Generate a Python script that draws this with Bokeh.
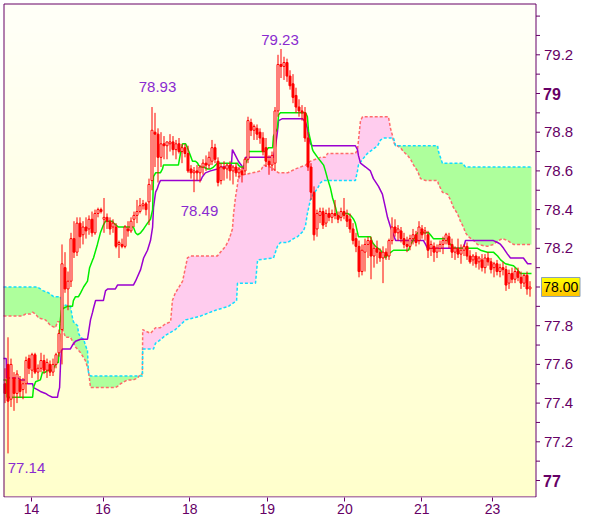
import numpy as np
from bokeh.plotting import figure
from bokeh.models import Range1d, FixedTicker, ColumnDataSource
from bokeh.embed import file_html
from bokeh.resources import INLINE
from bokeh.core.properties import value

# ---------------- data (hourly candles, bar index 0..175) ----------------
opens = [
    77.50, 77.60, 77.42, 77.53, 77.45, 77.52, 77.47, 77.50, 77.63, 77.57,
    77.65, 77.56, 77.58, 77.62, 77.57, 77.60, 77.56, 77.60, 77.66, 77.78,
    78.10, 77.99, 78.03, 78.25, 78.18, 78.33, 78.27, 78.31, 78.30, 78.35,
    78.28, 78.38, 78.40, 78.35, 78.36, 78.34, 78.31, 78.31, 78.22, 78.22,
    78.21, 78.30, 78.29, 78.35, 78.37, 78.39, 78.42, 78.43, 78.44, 78.55,
    78.80, 78.79, 78.67, 78.74, 78.73, 78.74, 78.75, 78.71, 78.74, 78.70,
    78.72, 78.69, 78.61, 78.59, 78.60, 78.59, 78.62, 78.64, 78.63, 78.65,
    78.72, 78.65, 78.55, 78.62, 78.61, 78.63, 78.60, 78.62, 78.59, 78.60,
    78.60, 78.66, 78.85, 78.81, 78.82, 78.80, 78.77, 78.72, 78.65, 78.63,
    78.64, 78.91, 79.15, 79.14, 79.16, 79.09, 79.05, 78.99, 78.93, 78.91,
    78.90, 78.77, 78.62, 78.49, 78.30, 78.37, 78.39, 78.33, 78.38, 78.36,
    78.38, 78.37, 78.36, 78.39, 78.37, 78.35, 78.30, 78.25, 78.21, 78.08,
    78.18, 78.22, 78.24, 78.16, 78.20, 78.18, 78.15, 78.18, 78.16, 78.24,
    78.31, 78.28, 78.29, 78.25, 78.22, 78.21, 78.25, 78.27, 78.24, 78.30,
    78.28, 78.27, 78.20, 78.21, 78.18, 78.20, 78.22, 78.24, 78.26, 78.22,
    78.18, 78.20, 78.17, 78.19, 78.21, 78.16, 78.14, 78.16, 78.13, 78.14,
    78.10, 78.15, 78.13, 78.10, 78.12, 78.08, 78.10, 78.09, 78.02, 78.07,
    78.04, 78.08, 78.05, 78.02, 78.06, 77.99]
highs = [
    77.58, 77.74, 77.63, 77.56, 77.57, 77.54, 77.53, 77.64, 77.65, 77.66,
    77.66, 77.60, 77.66, 77.65, 77.63, 77.62, 77.63, 77.66, 77.78, 78.22,
    78.18, 78.08, 78.28, 78.34, 78.36, 78.36, 78.34, 78.36, 78.37, 78.39,
    78.40, 78.41, 78.41, 78.46, 78.38, 78.36, 78.35, 78.33, 78.24, 78.25,
    78.32, 78.34, 78.36, 78.39, 78.45, 78.46, 78.45, 78.44, 78.56, 78.93,
    78.90, 78.82, 78.80, 78.78, 78.75, 78.79, 78.78, 78.76, 78.77, 78.74,
    78.74, 78.73, 78.63, 78.62, 78.63, 78.63, 78.66, 78.68, 78.70, 78.76,
    78.74, 78.67, 78.64, 78.65, 78.64, 78.65, 78.63, 78.64, 78.62, 78.62,
    78.67, 78.88, 78.87, 78.84, 78.84, 78.82, 78.80, 78.77, 78.68, 78.70,
    78.93, 79.20, 79.23, 79.19, 79.18, 79.12, 79.10, 79.03, 78.97, 78.94,
    78.93, 78.80, 78.64, 78.52, 78.40, 78.41, 78.41, 78.40, 78.41, 78.40,
    78.45, 78.39, 78.41, 78.46, 78.40, 78.38, 78.33, 78.28, 78.24, 78.22,
    78.25, 78.26, 78.26, 78.22, 78.24, 78.20, 78.21, 78.20, 78.25, 78.36,
    78.35, 78.32, 78.31, 78.28, 78.26, 78.27, 78.30, 78.29, 78.34, 78.32,
    78.31, 78.29, 78.24, 78.23, 78.22, 78.24, 78.26, 78.28, 78.28, 78.25,
    78.21, 78.25, 78.22, 78.22, 78.23, 78.19, 78.17, 78.18, 78.16, 78.17,
    78.17, 78.18, 78.15, 78.13, 78.14, 78.12, 78.13, 78.11, 78.09, 78.10,
    78.10, 78.10, 78.08, 78.07, 78.08, 78.03]
lows = [
    77.40, 77.14, 77.38, 77.36, 77.40, 77.43, 77.42, 77.45, 77.55, 77.53,
    77.55, 77.52, 77.56, 77.55, 77.53, 77.54, 77.54, 77.58, 77.64, 77.60,
    77.97, 77.88, 78.00, 78.15, 78.16, 78.20, 78.22, 78.25, 78.27, 78.26,
    78.27, 78.36, 78.38, 78.28, 78.30, 78.27, 78.28, 78.20, 78.15, 78.20,
    78.20, 78.26, 78.28, 78.31, 78.33, 78.38, 78.40, 78.37, 78.32, 78.50,
    78.62, 78.54, 78.62, 78.66, 78.66, 78.70, 78.68, 78.66, 78.69, 78.64,
    78.67, 78.59, 78.56, 78.49, 78.55, 78.54, 78.58, 78.60, 78.61, 78.63,
    78.64, 78.52, 78.53, 78.55, 78.56, 78.55, 78.53, 78.57, 78.56, 78.54,
    78.58, 78.64, 78.78, 78.76, 78.76, 78.74, 78.68, 78.62, 78.58, 78.60,
    78.60, 78.88, 79.08, 79.07, 79.06, 79.02, 78.95, 78.90, 78.88, 78.86,
    78.75, 78.60, 78.45, 78.24, 78.26, 78.33, 78.30, 78.31, 78.34, 78.33,
    78.35, 78.33, 78.34, 78.35, 78.31, 78.28, 78.22, 78.18, 78.05, 78.06,
    78.08, 78.15, 78.04, 78.10, 78.12, 78.13, 78.02, 78.14, 78.14, 78.22,
    78.26, 78.24, 78.23, 78.20, 78.18, 78.19, 78.22, 78.21, 78.22, 78.25,
    78.24, 78.15, 78.16, 78.13, 78.15, 78.18, 78.17, 78.22, 78.20, 78.15,
    78.14, 78.15, 78.12, 78.16, 78.14, 78.12, 78.11, 78.10, 78.09, 78.08,
    78.07, 78.11, 78.07, 78.05, 78.06, 78.05, 78.06, 77.98, 77.99, 78.02,
    78.02, 78.03, 77.99, 78.00, 77.96, 77.95]
closes = [
    77.45, 77.41, 77.60, 77.45, 77.55, 77.46, 77.50, 77.62, 77.58, 77.65,
    77.56, 77.58, 77.62, 77.57, 77.61, 77.56, 77.60, 77.65, 77.76, 78.12,
    77.99, 78.03, 78.25, 78.18, 78.33, 78.26, 78.31, 78.29, 78.35, 78.28,
    78.38, 78.40, 78.39, 78.36, 78.34, 78.30, 78.33, 78.21, 78.23, 78.21,
    78.31, 78.29, 78.34, 78.37, 78.39, 78.42, 78.43, 78.40, 78.53, 78.81,
    78.79, 78.67, 78.74, 78.73, 78.75, 78.75, 78.71, 78.74, 78.70, 78.72,
    78.69, 78.60, 78.59, 78.60, 78.59, 78.62, 78.64, 78.63, 78.67, 78.72,
    78.66, 78.54, 78.62, 78.61, 78.63, 78.60, 78.62, 78.59, 78.61, 78.58,
    78.66, 78.86, 78.81, 78.83, 78.79, 78.77, 78.70, 78.65, 78.63, 78.68,
    78.91, 79.15, 79.14, 79.16, 79.09, 79.04, 78.98, 78.93, 78.91, 78.90,
    78.77, 78.62, 78.49, 78.27, 78.38, 78.39, 78.32, 78.38, 78.36, 78.38,
    78.37, 78.35, 78.39, 78.37, 78.34, 78.30, 78.24, 78.21, 78.08, 78.19,
    78.22, 78.24, 78.16, 78.20, 78.18, 78.15, 78.18, 78.16, 78.24, 78.31,
    78.28, 78.30, 78.25, 78.22, 78.21, 78.25, 78.27, 78.23, 78.31, 78.27,
    78.29, 78.19, 78.22, 78.18, 78.20, 78.22, 78.24, 78.27, 78.22, 78.18,
    78.20, 78.17, 78.19, 78.21, 78.16, 78.13, 78.16, 78.12, 78.15, 78.10,
    78.15, 78.13, 78.09, 78.12, 78.08, 78.10, 78.09, 78.01, 78.07, 78.04,
    78.08, 78.05, 78.02, 78.06, 77.99, 78.00]

# Ichimoku lines: (bar, price) vertices
tenkan = [
    (-0.5, 77.52), (0.6, 77.52), (0.7, 77.43), (9.2, 77.43), (9.5, 77.48), (10.2, 77.51),
    (11.8, 77.52), (12.5, 77.56), (13.5, 77.56), (14.2, 77.57), (15.8, 77.57), (16.2, 77.58),
    (17.2, 77.61), (17.8, 77.61), (18.0, 77.67), (18.3, 77.81), (18.8, 77.88), (19.5, 77.89),
    (20.8, 77.90), (22.5, 77.90), (22.8, 77.93), (23.5, 77.95), (24.5, 77.95), (25.2, 77.97),
    (26.2, 78.00), (27.5, 78.03), (28.2, 78.10), (29.2, 78.14), (29.5, 78.15), (30.8, 78.22),
    (31.8, 78.28), (32.8, 78.32), (33.5, 78.34), (35.8, 78.34), (36.2, 78.33), (37.8, 78.31),
    (42.8, 78.31), (43.5, 78.28), (44.2, 78.27), (45.2, 78.28), (46.2, 78.30), (47.5, 78.33),
    (48.5, 78.35), (49.2, 78.40), (49.5, 78.57), (50.2, 78.59), (51.8, 78.59), (52.5, 78.61),
    (52.8, 78.63), (57.8, 78.63), (58.5, 78.69), (59.2, 78.74), (60.2, 78.74), (60.8, 78.72),
    (61.8, 78.68), (62.5, 78.65), (63.5, 78.65), (64.2, 78.64), (64.5, 78.63), (65.2, 78.62),
    (66.2, 78.62), (67.5, 78.61), (68.5, 78.61), (69.5, 78.62), (70.8, 78.64), (77.5, 78.64),
    (77.8, 78.63), (78.5, 78.62), (79.5, 78.62), (80.2, 78.64), (80.8, 78.66), (81.2, 78.70),
    (86.8, 78.70), (87.8, 78.72), (89.2, 78.72), (89.5, 78.78), (90.8, 78.82), (91.2, 78.89),
    (91.8, 78.90), (100.2, 78.90), (100.8, 78.88), (101.2, 78.80), (101.8, 78.76), (102.5, 78.71),
    (102.8, 78.70), (104.2, 78.67), (105.2, 78.65), (106.2, 78.63), (106.8, 78.60), (107.5, 78.56),
    (108.5, 78.51), (109.2, 78.46), (110.2, 78.41), (110.8, 78.37), (111.8, 78.36), (112.5, 78.38),
    (114.2, 78.38), (115.2, 78.37), (116.2, 78.35), (116.8, 78.33), (117.8, 78.26), (121.8, 78.26),
    (122.5, 78.23), (123.5, 78.21), (125.2, 78.19), (126.8, 78.15), (127.8, 78.17), (129.5, 78.19),
    (134.5, 78.19), (135.2, 78.22), (136.8, 78.26), (137.5, 78.28), (141.2, 78.28), (141.8, 78.27),
    (142.8, 78.25), (147.5, 78.25), (147.8, 78.23), (149.2, 78.21), (149.5, 78.20), (157.5, 78.20),
    (158.5, 78.19), (160.8, 78.18), (162.8, 78.18), (164.2, 78.16), (165.2, 78.14), (166.8, 78.12),
    (169.5, 78.11), (170.8, 78.09), (171.8, 78.07), (175.5, 78.07)]
kijun = [
    (-0.5, 77.63), (0.4, 77.63), (0.5, 77.53), (4.2, 77.53), (5.2, 77.52), (6.8, 77.52),
    (7.5, 77.50), (9.2, 77.50), (9.5, 77.48), (10.8, 77.47), (11.8, 77.46), (13.5, 77.45),
    (14.5, 77.44), (15.8, 77.43), (17.5, 77.43), (17.7, 77.45), (18.2, 77.48), (18.5, 77.60),
    (18.8, 77.67), (19.2, 77.68), (21.8, 77.68), (22.5, 77.70), (23.5, 77.72), (25.2, 77.73),
    (27.5, 77.73), (27.8, 77.76), (28.5, 77.83), (29.2, 77.87), (29.5, 77.89), (30.2, 77.93),
    (32.8, 77.93), (33.5, 77.98), (34.2, 77.99), (36.8, 77.99), (37.5, 78.01), (42.8, 78.01),
    (43.5, 78.03), (45.2, 78.09), (46.2, 78.15), (47.5, 78.19), (48.5, 78.24), (49.2, 78.31),
    (49.5, 78.41), (50.2, 78.49), (50.8, 78.51), (51.2, 78.53), (51.8, 78.55), (65.2, 78.55),
    (65.8, 78.57), (66.8, 78.59), (68.5, 78.60), (70.8, 78.61), (71.8, 78.62), (75.2, 78.62),
    (75.5, 78.64), (75.8, 78.71), (76.8, 78.68), (77.8, 78.65), (79.2, 78.62), (79.5, 78.61),
    (80.2, 78.67), (89.5, 78.67), (90.2, 78.73), (90.8, 78.80), (91.2, 78.86), (92.5, 78.87),
    (99.2, 78.87), (100.2, 78.85), (100.8, 78.82), (101.2, 78.78), (101.8, 78.74), (102.5, 78.73),
    (116.8, 78.73), (117.5, 78.71), (117.8, 78.68), (118.5, 78.64), (120.2, 78.62), (121.8, 78.60),
    (122.8, 78.56), (124.5, 78.52), (125.8, 78.48), (126.8, 78.41), (127.5, 78.36), (128.5, 78.31),
    (129.5, 78.27), (130.2, 78.24), (139.5, 78.24), (140.2, 78.22), (140.8, 78.20), (152.8, 78.20),
    (153.5, 78.24), (162.8, 78.24), (164.2, 78.23), (165.2, 78.22), (166.2, 78.20), (167.5, 78.17),
    (168.5, 78.15), (172.8, 78.15), (174.2, 78.12), (175.5, 78.12)]
span_cyan = [
    (-0.5, 78.00), (10.8, 78.00), (11.8, 77.99), (12.8, 77.98), (14.5, 77.97), (16.2, 77.95),
    (18.5, 77.95), (19.2, 77.91), (21.8, 77.90), (22.5, 77.84), (22.8, 77.82), (24.2, 77.80),
    (24.5, 77.76), (25.2, 77.74), (26.2, 77.73), (26.8, 77.70), (27.5, 77.67), (27.8, 77.56),
    (28.5, 77.54), (45.8, 77.54), (45.9, 77.68), (49.5, 77.68), (50.2, 77.71), (51.2, 77.72),
    (53.5, 77.75), (56.8, 77.78), (60.2, 77.83), (65.2, 77.85), (70.2, 77.88), (74.5, 77.90),
    (77.2, 77.93), (77.5, 78.02), (83.5, 78.02), (84.2, 78.14), (89.5, 78.15), (90.8, 78.21),
    (91.8, 78.23), (94.2, 78.23), (95.2, 78.24), (96.2, 78.25), (97.5, 78.26), (99.5, 78.29),
    (100.2, 78.32), (100.8, 78.38), (101.8, 78.45), (102.8, 78.48), (104.2, 78.51), (105.2, 78.54),
    (106.2, 78.55), (116.8, 78.55), (117.5, 78.60), (117.8, 78.63), (119.2, 78.66), (120.8, 78.69),
    (122.5, 78.71), (124.2, 78.73), (125.2, 78.76), (126.2, 78.77), (129.5, 78.77), (130.2, 78.73),
    (144.2, 78.73), (144.5, 78.70), (145.8, 78.64), (152.5, 78.64), (153.5, 78.62), (175.5, 78.62)]
span_salmon = [
    (-0.5, 77.85), (5.8, 77.85), (6.8, 77.86), (8.5, 77.86), (9.2, 77.87), (10.2, 77.86),
    (11.2, 77.84), (13.5, 77.83), (15.2, 77.80), (16.8, 77.79), (17.5, 77.82), (18.5, 77.82),
    (19.2, 77.78), (20.2, 77.74), (21.8, 77.74), (23.5, 77.69), (25.2, 77.66), (26.8, 77.62),
    (27.8, 77.57), (28.5, 77.48), (36.8, 77.48), (37.8, 77.49), (38.5, 77.50), (40.8, 77.52),
    (42.8, 77.52), (44.2, 77.53), (45.2, 77.55), (45.8, 77.55), (45.9, 77.78), (48.5, 77.76),
    (50.2, 77.79), (51.8, 77.79), (53.5, 77.81), (55.2, 77.82), (55.8, 77.93), (56.8, 77.97),
    (59.2, 78.03), (60.8, 78.15), (61.8, 78.16), (70.8, 78.16), (71.8, 78.18), (73.5, 78.21),
    (74.5, 78.24), (75.2, 78.27), (75.8, 78.30), (76.2, 78.38), (76.8, 78.46), (77.5, 78.53),
    (77.8, 78.57), (79.5, 78.58), (82.5, 78.59), (85.2, 78.60), (86.2, 78.63), (88.5, 78.62),
    (91.2, 78.59), (94.2, 78.59), (96.8, 78.61), (100.2, 78.63), (101.8, 78.65), (103.5, 78.66),
    (105.2, 78.67), (106.8, 78.67), (107.5, 78.69), (116.8, 78.69), (117.5, 78.71), (118.5, 78.86),
    (119.2, 78.88), (127.8, 78.88), (128.5, 78.82), (129.2, 78.78), (129.5, 78.75), (130.2, 78.73),
    (130.8, 78.73), (131.8, 78.72), (132.8, 78.70), (134.2, 78.68), (135.2, 78.66), (136.2, 78.63),
    (137.5, 78.60), (138.5, 78.56), (140.2, 78.55), (144.2, 78.55), (144.5, 78.53), (145.2, 78.51),
    (145.8, 78.49), (147.5, 78.48), (148.5, 78.45), (149.5, 78.41), (150.8, 78.38), (151.8, 78.34),
    (152.8, 78.31), (153.5, 78.28), (154.5, 78.26), (156.2, 78.24), (157.5, 78.22), (160.8, 78.21),
    (162.8, 78.22), (164.5, 78.24), (165.8, 78.25), (167.5, 78.24), (169.5, 78.22), (175.5, 78.22)]
# bars where the cloud changes colour
cloud_switch = [45.85, 130.2]

# axis ticks and labels
x_tick_bars = [8.83, 32.7, 61.6, 87.4, 113.3, 138.9, 162.5]
x_tick_labels = ["14", "16", "18", "19", "20", "21", "23"]
y_major = [77.0, 77.2, 77.4, 77.6, 77.8, 78.0, 78.2, 78.4, 78.6, 78.8, 79.0, 79.2]
y_minor = [76.9, 77.1, 77.3, 77.5, 77.7, 77.9, 78.1, 78.3, 78.5, 78.7, 78.9, 79.1, 79.3, 79.4]
y_bold = [77.0, 79.0]
last_price = 78.00
# annotated extremes: (kind, bar)
extremes = [("high", 92), ("high", 49), ("low", 63), ("low", 1)]

# ---------------- styling ----------------
RED = "#FF0000"
GREEN_FILL = "#AEFF9C"
PINK_FILL = "#FFCCEE"
SALMON = "#FF6A6A"
CYAN = "#11DDFF"
TENKAN = "#00EE00"
KIJUN = "#9A00D0"
AXIS = "#660066"
NOTE = "#8A2BD0"
FONT = "Liberation Sans"

# pixel geometry of the chart (bar i centred at 4.5 + 3 i px, 193.5 px per yen, 77 at 480 px)
PX_PER_BAR = 3.0
PX_PER_YEN = 193.5


def bx(px):
    return (px - 4.5) / PX_PER_BAR


def vy(py):
    return 77.0 + (480.0 - py) / PX_PER_YEN


FR_L, FR_R, FR_T, FR_B = 2, 592, 2, 497           # frame (page pixels)
PA_L, PA_R, PA_T, PA_B = 3, 535, 3, 496           # plotting area inside the border

n = len(closes)
assert len(opens) == n and len(highs) == n and len(lows) == n, (len(opens), len(highs), len(lows), n)
xb = np.arange(n)
o = np.array(opens); h = np.array(highs); l = np.array(lows); c = np.array(closes)
up = c >= o
btop = np.maximum(o, c)
bbot = np.minimum(o, c)

p = figure(frame_width=FR_R - FR_L, frame_height=FR_B - FR_T,
           x_range=Range1d(bx(FR_L), bx(FR_R)), y_range=Range1d(vy(FR_B), vy(FR_T)),
           output_backend="svg", toolbar_location=None, y_axis_location=None,
           min_border_left=FR_L, min_border_top=FR_T, min_border_right=0, min_border_bottom=18,
           background_fill_color="white", border_fill_color="white")

# vertical gradient background of the plotting area
H = 200
grad = np.zeros((H, 1), dtype=np.uint32)
gv = grad.view(np.uint8).reshape(H, 1, 4)
t = np.linspace(0.0, 1.0, H)
gv[:, 0, 0] = 255
gv[:, 0, 1] = 255
gv[:, 0, 2] = np.round(204 + 44 * t).astype(np.uint8)
gv[:, 0, 3] = 255
p.image_rgba(image=[grad], x=bx(PA_L), y=vy(PA_B), dw=bx(PA_R) - bx(PA_L), dh=vy(PA_T) - vy(PA_B))


def region(top, bot, a, b):
    tp = [q for q in top if a <= q[0] <= b]
    bt = [q for q in bot if a <= q[0] <= b][::-1]
    pts = tp + bt
    return [q[0] for q in pts], [q[1] for q in pts]


bounds = [-10] + cloud_switch + [1000]
for k in range(3):
    if k == 1:
        xs, ys = region(span_salmon, span_cyan, bounds[k], bounds[k + 1])
        col = PINK_FILL
    else:
        xs, ys = region(span_cyan, span_salmon, bounds[k], bounds[k + 1])
        col = GREEN_FILL
    p.patch(xs, ys, fill_color=col, line_color=None)

p.line([q[0] for q in span_salmon], [q[1] for q in span_salmon],
       line_color=SALMON, line_width=1.5, line_dash="3 2")
p.line([q[0] for q in span_cyan], [q[1] for q in span_cyan],
       line_color=CYAN, line_width=1.5, line_dash="3 2")

p.line([q[0] for q in kijun], [q[1] for q in kijun], line_color=KIJUN, line_width=1.5)
p.line([q[0] for q in tenkan], [q[1] for q in tenkan], line_color=TENKAN, line_width=1.5)

# candles (hollow = rising, filled = falling)
p.segment(x0=xb, y0=h, x1=xb, y1=l, line_color=RED, line_width=1)
p.vbar(x=xb[up], width=2 / 3, top=btop[up], bottom=bbot[up],
       fill_color="#FFFFF6", line_color=RED, line_width=1)
p.vbar(x=xb[~up], width=2 / 3, top=btop[~up], bottom=bbot[~up],
       fill_color=RED, line_color=RED, line_width=1)

# annotated extremes
note_offsets = [(-1, -8.5), (5.5, -20.5), (5.5, 19.3), (18.5, 14.6)]
ex_x, ex_y, ex_t = [], [], []
for kind, b in extremes:
    val = highs[b] if kind == "high" else lows[b]
    ex_x.append(b)
    ex_y.append(val)
    ex_t.append(f"{val:.2f}")
src = ColumnDataSource(dict(x=ex_x, y=ex_y, t=ex_t,
                            dx=[q[0] for q in note_offsets], dy=[q[1] for q in note_offsets]))
p.text(x="x", y="y", text="t", x_offset="dx", y_offset="dy", source=src,
       text_align="center", text_baseline="middle", text_color=NOTE,
       text_font=value(FONT), text_font_size="15px")

# border of the plotting area
p.quad(left=bx(PA_L + 0.5), right=bx(PA_R + 0.5), top=vy(PA_T + 0.5), bottom=vy(PA_B + 0.5),
       fill_color=None, line_color=AXIS, line_width=1)

# right-hand price scale
XR = bx(PA_R + 0.5)
all_ticks = y_major + y_minor
p.segment(x0=[XR] * len(all_ticks), x1=[XR + 4 / PX_PER_BAR] * len(all_ticks),
          y0=all_ticks, y1=all_ticks, line_color=AXIS, line_width=1)
norm = [v for v in y_major if v not in y_bold and v != last_price]
p.text(x=[XR] * len(norm), y=norm, text=[f"{v:.1f}" for v in norm], x_offset=8,
       text_align="left", text_baseline="middle", text_color=AXIS,
       text_font=value(FONT), text_font_size="15px")
p.text(x=[XR] * len(y_bold), y=y_bold, text=[f"{v:.0f}" for v in y_bold], x_offset=7,
       text_align="left", text_baseline="middle", text_color=AXIS,
       text_font=value(FONT), text_font_size="16px", text_font_style="bold")

# current price box (yellow -> orange gradient)
bl, br = XR + 5.5 / PX_PER_BAR, XR + 44 / PX_PER_BAR
bh = 9.5 / PX_PER_YEN
bgrad = np.zeros((20, 1), dtype=np.uint32)
bv = bgrad.view(np.uint8).reshape(20, 1, 4)
tb = np.linspace(0.0, 1.0, 20)
bv[:, 0, 0] = 255
bv[:, 0, 1] = np.round(196 + 59 * tb).astype(np.uint8)
bv[:, 0, 2] = 0
bv[:, 0, 3] = 255
p.image_rgba(image=[bgrad], x=bl, y=last_price - bh, dw=br - bl, dh=2 * bh)
p.quad(left=bl, right=br, top=last_price + bh, bottom=last_price - bh,
       fill_color=None, line_color="#8AA0B8", line_width=1)
p.text(x=[(bl + br) / 2], y=[last_price], text=[f"{last_price:.2f}"],
       text_align="center", text_baseline="middle", text_color="black",
       text_font=value(FONT), text_font_size="14px")

# bottom date axis
p.xgrid.visible = False
p.ygrid.visible = False
p.outline_line_color = None
ax = p.xaxis[0]
ax.axis_line_color = None
ax.major_tick_line_color = AXIS
ax.major_tick_in = 0
ax.major_tick_out = 4
ax.minor_tick_line_color = None
ax.major_label_text_color = AXIS
ax.major_label_text_font = FONT
ax.major_label_text_font_size = "14px"
ax.major_label_standoff = 2
ax.ticker = FixedTicker(ticks=x_tick_bars)
ax.major_label_overrides = {b: s for b, s in zip(x_tick_bars, x_tick_labels)}

open("out.html", "w").write(file_html(p, INLINE))
